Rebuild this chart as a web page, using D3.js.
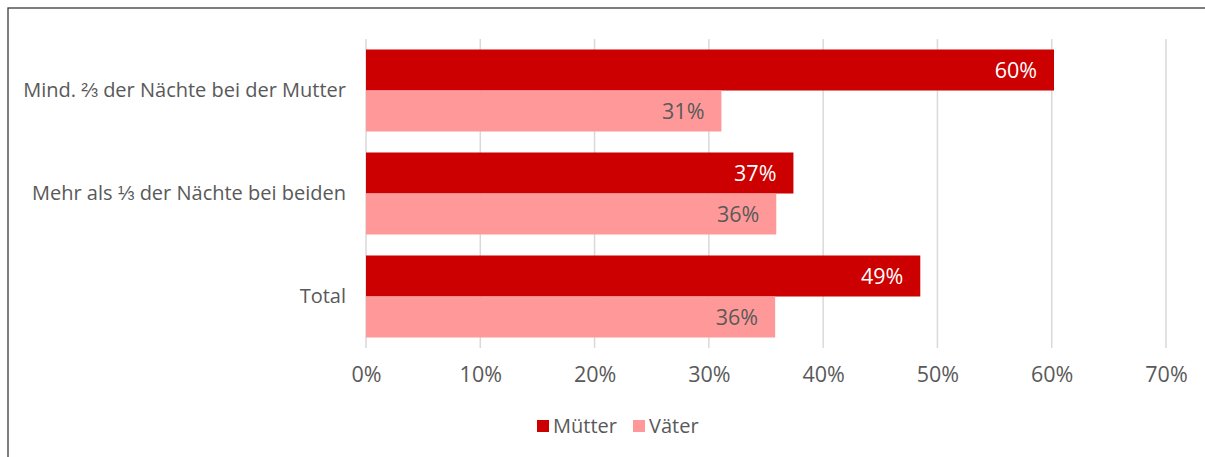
<!DOCTYPE html>
<html><head><meta charset="utf-8">
<script src="https://cdn.jsdelivr.net/npm/d3@7"></script>
<style>body{margin:0;background:#fff}svg{display:block}text{font-family:"Open Sans",sans-serif}</style>
</head><body>
<svg id="c" width="1205" height="457"></svg>
<script>
const categories = ["Mind. ⅔ der Nächte bei der Mutter", "Mehr als ⅓ der Nächte bei beiden", "Total"];
const seriesNames = ["Mütter", "Väter"];
const muetter = [60.2, 37.4, 48.5];
const vaeter = [31.1, 35.9, 35.8];
const valueLabels = [["60%", "31%"], ["37%", "36%"], ["49%", "36%"]];
const tickValues = [0, 10, 20, 30, 40, 50, 60, 70];
const colors = ["#cc0000", "#ff9999"];

const svg = d3.select("#c");
svg.append("rect").attr("x", 8).attr("y", 8).attr("width", 1220).attr("height", 470)
  .attr("fill", "none").attr("stroke", "#3a3a3a").attr("stroke-width", 1.3);

const x = d3.scaleLinear().domain([0, 70]).range([366, 1166]);
const y0 = d3.scaleBand().domain(categories).range([39, 348]);
const sub = d3.scaleBand().domain(seriesNames).range([0, 82]);
const textColor = "#595959";

// gridlines
svg.append("g").selectAll("line").data(tickValues).join("line")
  .attr("x1", d => x(d)).attr("x2", d => x(d))
  .attr("y1", 39).attr("y2", 348)
  .attr("stroke", "#d9d9d9").attr("stroke-width", 1.5);

// axis labels
const xa = d3.axisBottom(x).tickValues(tickValues).tickFormat(d => d + "%").tickSize(0).tickPadding(0);
const gx = svg.append("g").attr("transform", "translate(0,348)").call(xa);
gx.select(".domain").remove();
gx.selectAll("text").attr("font-size", 21.5).attr("fill", textColor).attr("dy", 0).attr("y", 34)
  .style("font-family", '"Open Sans",sans-serif');

const ya = d3.axisLeft(y0).tickSize(0).tickPadding(20);
const gy = svg.append("g").attr("transform", "translate(366,0)").call(ya);
gy.select(".domain").remove();
gy.selectAll("text").attr("font-size", 20).attr("fill", textColor)
  .style("font-family", '"Open Sans",sans-serif');

const data = categories.map((c, i) => ({c, vals: [muetter[i], vaeter[i]], labels: valueLabels[i]}));
const groups = svg.append("g").selectAll("g").data(data).join("g")
  .attr("transform", d => `translate(0,${y0(d.c) + (y0.bandwidth() - 82) / 2})`);
groups.selectAll("rect").data(d => d.vals.map((v, j) => ({v, j, s: seriesNames[j]}))).join("rect")
  .attr("x", x(0)).attr("y", d => sub(d.s)).attr("width", d => x(d.v) - x(0))
  .attr("height", sub.bandwidth()).attr("fill", d => colors[d.j]);
groups.selectAll("text").data(d => d.vals.map((v, j) => ({v, j, s: seriesNames[j], l: d.labels[j]}))).join("text")
  .attr("x", d => x(d.v) - 17).attr("y", d => sub(d.s) + sub.bandwidth() / 2)
  .attr("dy", "0.36em").attr("text-anchor", "end").attr("font-size", 21.5)
  .attr("fill", d => d.j === 0 ? "#ffffff" : textColor).text(d => d.l);

// legend
const legendX = [537, 633];
const lg = svg.append("g").selectAll("g").data(seriesNames).join("g")
  .attr("transform", (d, i) => `translate(${legendX[i]},420)`);
lg.append("rect").attr("width", 12).attr("height", 12).attr("fill", (d, i) => colors[i]);
lg.append("text").attr("x", 16).attr("y", 6).attr("dy", "0.36em").attr("font-size", 20)
  .attr("fill", textColor).text(d => d);
</script>
</body></html>
